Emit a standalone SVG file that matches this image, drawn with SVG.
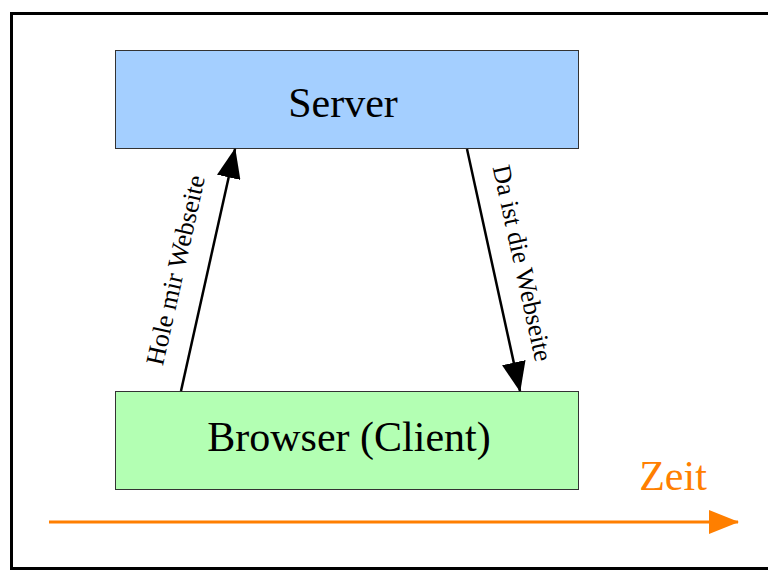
<svg xmlns="http://www.w3.org/2000/svg" width="768" height="570" viewBox="0 0 768 570">
  <style>
    .box { stroke: #333333; stroke-width: 1; }
    .title { font-family: "Liberation Serif", "Times New Roman", serif; font-size: 42px; fill: #000000; text-anchor: middle; }
    .lbl { font-family: "Liberation Serif", "Times New Roman", serif; font-size: 26px; fill: #000000; text-anchor: middle; }
    .msg { stroke: #000000; stroke-width: 2.5; fill: none; }
  </style>
  <defs>
    <marker id="head" viewBox="0 0 30 24" refX="29" refY="12" markerWidth="30" markerHeight="24" markerUnits="userSpaceOnUse" orient="auto">
      <path d="M0,0 L30,12 L0,24 Z" fill="#000000"/>
    </marker>
    <marker id="headTime" viewBox="0 0 30 24" refX="29" refY="12" markerWidth="30" markerHeight="24" markerUnits="userSpaceOnUse" orient="auto">
      <path d="M0,0 L30,12 L0,24 Z" fill="#ff7f00"/>
    </marker>
  </defs>

  <rect width="768" height="570" fill="#ffffff"/>
  <!-- outer frame -->
  <rect x="11.5" y="13.5" width="770" height="555" fill="none" stroke="#000000" stroke-width="3"/>

  <g id="server">
    <rect class="box" x="115.5" y="50.5" width="463" height="98" fill="#a4cfff"/>
    <text class="title" x="343" y="117">Server</text>
  </g>

  <g id="browser">
    <rect class="box" x="115.5" y="391.5" width="463" height="98" fill="#b3ffb3"/>
    <text class="title" x="349" y="451">Browser (Client)</text>
  </g>

  <g id="connectors">
    <line class="msg" x1="181" y1="391" x2="235" y2="149" marker-end="url(#head)"/>
    <line class="msg" x1="467" y1="149" x2="520" y2="391" marker-end="url(#head)"/>
    <text class="lbl" transform="translate(184,272) rotate(-77.4)">Hole mir Webseite</text>
    <text class="lbl" transform="translate(514,265) rotate(77.6)">Da ist die Webseite</text>
  </g>

  <g id="timeline">
    <line x1="49" y1="522" x2="738" y2="522" stroke="#ff7f00" stroke-width="3" marker-end="url(#headTime)"/>
    <text x="673" y="490" font-family="Liberation Serif, Times New Roman, serif" font-size="42" fill="#ff7f00" text-anchor="middle">Zeit</text>
  </g>
</svg>
